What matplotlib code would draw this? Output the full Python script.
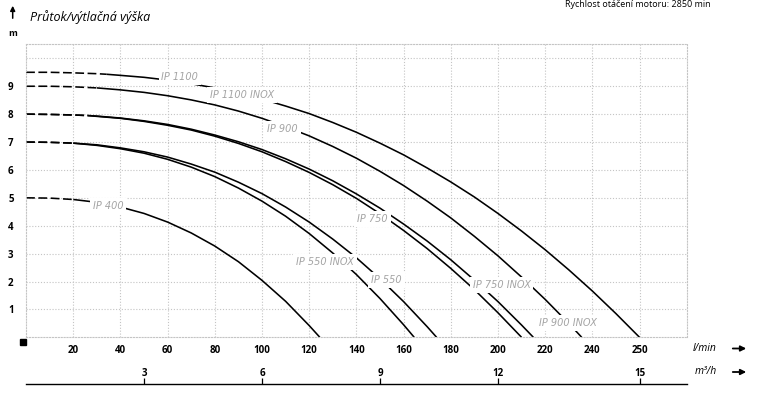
import matplotlib.pyplot as plt
from matplotlib.lines import Line2D

plt.rcParams['font.family'] = ['Open Sans', 'DejaVu Sans']

# flow (l/min) and head (m)
q_1100 = [0, 10, 20, 30, 34, 40, 50, 60, 70, 80, 90, 100, 110, 120, 130, 140,
          150, 160, 170, 180, 190, 200, 210, 220, 230, 240, 250, 260]
h_1100 = [9.5, 9.5, 9.48, 9.45, 9.43, 9.39, 9.32, 9.22, 9.09, 8.94, 8.76, 8.54,
          8.29, 8.02, 7.70, 7.35, 6.96, 6.54, 6.07, 5.57, 5.03, 4.44, 3.81, 3.14,
          2.42, 1.66, 0.85, 0]

q_900 = [0, 10, 20, 30, 40, 50, 60, 70, 80, 90, 100, 110, 120, 130, 140, 150,
         160, 170, 180, 190, 200, 210, 220, 230, 235.5]
h_900 = [9.0, 9.0, 8.98, 8.94, 8.87, 8.78, 8.66, 8.51, 8.33, 8.11, 7.85, 7.55,
         7.22, 6.84, 6.42, 5.95, 5.44, 4.88, 4.28, 3.62, 2.92, 2.16, 1.36, 0.50, 0]

q_750 = [0, 10, 20, 26, 30, 40, 50, 60, 70, 80, 90, 100, 110, 120, 130, 140,
         150, 160, 170, 180, 190, 200, 210]
h_750 = [8.0, 7.99, 7.97, 7.95, 7.92, 7.85, 7.74, 7.60, 7.43, 7.21, 6.95, 6.65,
         6.30, 5.91, 5.47, 4.98, 4.43, 3.83, 3.18, 2.47, 1.71, 0.88, 0]

q_750inox = [0, 10, 20, 26, 30, 40, 50, 60, 70, 80, 90, 100, 110, 120, 130, 140,
             150, 160, 170, 180, 190, 200, 210, 215]
h_750inox = [8.0, 7.99, 7.97, 7.95, 7.93, 7.86, 7.76, 7.63, 7.46, 7.25, 7.01, 6.73,
             6.40, 6.03, 5.61, 5.14, 4.63, 4.06, 3.45, 2.78, 2.05, 1.28, 0.44, 0]

q_550 = [0, 10, 20, 30, 40, 50, 60, 70, 80, 90, 100, 110, 120, 130, 140, 150,
         160, 170, 174]
h_550 = [7.0, 6.99, 6.96, 6.90, 6.79, 6.65, 6.46, 6.21, 5.92, 5.56, 5.15, 4.67,
         4.13, 3.52, 2.85, 2.10, 1.28, 0.38, 0]

q_550inox = [0, 10, 20, 30, 40, 50, 60, 70, 80, 90, 100, 110, 120, 130, 140, 150,
             160, 164.5]
h_550inox = [7.0, 6.99, 6.96, 6.88, 6.76, 6.60, 6.38, 6.10, 5.76, 5.35, 4.88, 4.34,
             3.72, 3.02, 2.25, 1.39, 0.45, 0]

q_400 = [0, 10, 20, 30, 40, 50, 60, 70, 80, 90, 100, 110, 120, 124.5]
h_400 = [5.0, 4.99, 4.94, 4.84, 4.67, 4.44, 4.13, 3.74, 3.27, 2.71, 2.04, 1.29, 0.42, 0]

# where the dashed start of each curve ends
dash_end = {'1100': 34, '900': 30, '750': 26, '750inox': 26,
            '550': 20, '550inox': 20, '400': 20}

labels = ['IP 1100', 'IP 1100 INOX', 'IP 900', 'IP 900 INOX', 'IP 750',
          'IP 750 INOX', 'IP 550 INOX', 'IP 550', 'IP 400']
label_q = [65.2, 91.4, 108.6, 229.6, 146.8, 201.5, 126.7, 152.7, 34.8]
label_h = [9.33, 8.68, 7.47, 0.52, 4.24, 1.87, 2.70, 2.04, 4.71]

lmin_ticks = [20, 40, 60, 80, 100, 120, 140, 160, 180, 200, 220, 240, 260]
lmin_labels = ['20', '40', '60', '80', '100', '120', '140', '160', '180', '200',
               '220', '240', '250']
m3h_ticks = [50, 100, 150, 200, 260]
m3h_labels = ['3', '6', '9', '12', '15']
head_ticks = [1, 2, 3, 4, 5, 6, 7, 8, 9, 10]
head_labels = ['1', '2', '3', '4', '5', '6', '7', '8', '9', '']

W, H = 763, 393
fig = plt.figure(figsize=(W / 100, H / 100), dpi=100)
ax = fig.add_axes([26.1 / W, 1 - 337.3 / H, 660.6 / W, 292.9 / H])

curves = [(q_1100, h_1100, '1100'), (q_900, h_900, '900'), (q_750, h_750, '750'),
          (q_750inox, h_750inox, '750inox'), (q_550, h_550, '550'),
          (q_550inox, h_550inox, '550inox'), (q_400, h_400, '400')]
for q, h, key in curves:
    i = q.index(dash_end[key])
    ax.plot(q[:i + 1], h[:i + 1], color='k', lw=1.15, dashes=(5.5, 2.2))
    ax.plot(q[i:], h[i:], color='k', lw=1.15, solid_capstyle='butt')

for t, x, y in zip(labels, label_q, label_h):
    ax.text(x, y, t, ha='center', va='center', fontsize=7, style='italic',
            color='#a4a4a4', family=['Liberation Sans Narrow', 'DejaVu Sans'],
            bbox=dict(boxstyle='square,pad=0.3', fc='white', ec='none'), zorder=5)

ax.set_xlim(0, 280)
ax.set_ylim(0, 10.5)
ax.set_xticks(lmin_ticks)
ax.set_xticklabels(lmin_labels, fontsize=7, fontweight='bold')
ax.set_yticks(head_ticks)
ax.set_yticklabels(head_labels, fontsize=7, fontweight='bold')
ax.tick_params(axis='x', length=0, pad=5.5)
ax.tick_params(axis='y', length=0, pad=9)
ax.grid(color='#c4c4c4', linestyle=(0, (1, 1.6)), lw=0.8)
for s in ax.spines.values():
    s.set_linestyle((0, (1, 1.6)))
    s.set_color('#c4c4c4')
    s.set_linewidth(0.8)

# second flow scale in m3/h
ax2 = fig.add_axes([26.1 / W, 1 - 383.5 / H, 660.6 / W, 0.0001])
ax2.set_xlim(0, 280)
ax2.set_yticks([])
for s in ['left', 'right', 'top']:
    ax2.spines[s].set_visible(False)
ax2.spines['bottom'].set_linewidth(1.0)
ax2.set_xticks(m3h_ticks)
ax2.set_xticklabels(m3h_labels, fontsize=7, fontweight='bold')
ax2.tick_params(axis='x', direction='in', length=4, width=0.9, bottom=True, top=False,
                labelbottom=False, labeltop=True, pad=3)

# texts around the frame
fig.text(30 / W, 1 - 17 / H, 'Průtok/výtlačná výška', fontsize=9, style='italic', va='center')
fig.text(12.5 / W, 1 - 34 / H, 'm', fontsize=6.5, fontweight='bold', ha='center', va='center')
fig.text(638 / W, 1, 'Rychlost otáčení motoru: 2850 min', fontsize=6.5,
         ha='center', va='top')
ax.annotate('', xy=(12.7 / W, 1 - 3 / H), xytext=(12.7 / W, 1 - 21 / H),
            xycoords='figure fraction', annotation_clip=False,
            arrowprops=dict(arrowstyle='-|>', color='k', lw=1.1, mutation_scale=7))
fig.add_artist(Line2D([23 / W], [1 - 342 / H], marker='s', ms=4.5, color='k',
                      transform=fig.transFigure))

fig.text(693 / W, 1 - 348.5 / H, 'l/min', fontsize=7.5, style='italic', va='center')
fig.text(695 / W, 1 - 372 / H, 'm³/h', fontsize=7.5, style='italic', va='center')
for yy in [348.5, 372]:
    ax.annotate('', xy=(749 / W, 1 - yy / H), xytext=(730 / W, 1 - yy / H),
                xycoords='figure fraction', annotation_clip=False,
                arrowprops=dict(arrowstyle='-|>', color='k', lw=1.3, mutation_scale=8))

fig.savefig('out.png', dpi=100)
